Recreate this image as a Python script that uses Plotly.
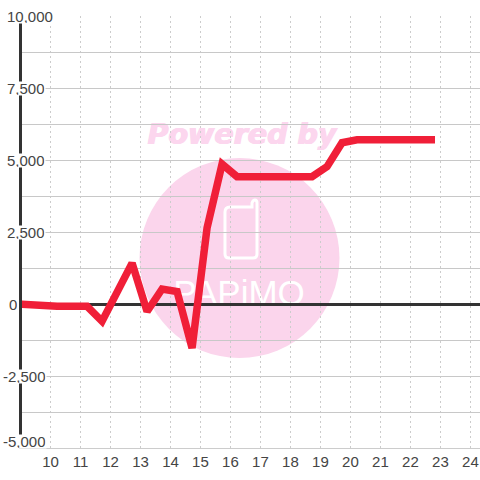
import plotly.graph_objects as go

hours = [8.9, 9.72, 10.22, 10.72, 11.22, 11.72, 12.22, 12.72, 13.22, 13.72, 14.22, 14.72,
         15.22, 15.72, 16.22, 16.72, 17.22, 17.72, 18.22, 18.72, 19.22, 19.72, 20.22,
         20.72, 21.22, 21.72, 22.22, 22.82]
values = [0, -80, -80, -80, -80, -600, 420, 1420, -260, 520, 430, -1530,
          2640, 4860, 4420, 4420, 4420, 4420, 4420, 4420, 4770, 5600, 5700,
          5700, 5700, 5700, 5700, 5700]
x_ticks = list(range(10, 25))
y_ticks = [10000, 7500, 5000, 2500, 0, -2500, -5000]
y_labels = ["10,000", "7,500", "5,000", "2,500", "0", "-2,500", "-5,000"]
watermark_top = "Powered by"
watermark_logo = "PAPiMO"

W, H = 480, 480
L, R, T, B = 22, 0, 16, 32
FONT = "Liberation Sans, Arial, sans-serif"
PINK = "#fbd5ec"


def fx(p):
    return (p - L) / (W - L - R)


def fy(p):
    return (H - B - p) / (H - T - B)


def pt(a, b):
    return f"{fx(a):.4f},{fy(b):.4f}"


phone_path = ("M" + pt(230, 207) + " L" + pt(252, 207) + " L" + pt(252, 203)
              + " Q" + pt(253, 200) + " " + pt(255, 200)
              + " Q" + pt(257, 200) + " " + pt(257, 203)
              + " L" + pt(257, 254) + " Q" + pt(257, 258) + " " + pt(253, 258)
              + " L" + pt(229, 258) + " Q" + pt(225, 258) + " " + pt(225, 254)
              + " L" + pt(225, 212) + " Q" + pt(225, 207) + " " + pt(230, 207) + " Z")

shapes = [
    dict(type="circle", xref="paper", yref="paper", layer="below",
         x0=fx(139.5), x1=fx(339.5), y0=fy(358), y1=fy(158),
         fillcolor=PINK, line_width=0),
    dict(type="rect", xref="paper", yref="paper", layer="below",
         x0=fx(140), x1=fx(344), y0=fy(148), y1=fy(116),
         fillcolor="rgba(0,0,0,0)", line_width=0,
         label=dict(text=watermark_top, textposition="middle center",
                    font=dict(family="DejaVu Sans", size=28.5, color="#fcd6ee",
                              weight=800, style="italic",
                              shadow="0.7px 0 0 #fcd6ee, -0.7px 0 0 #fcd6ee"))),
    dict(type="path", xref="paper", yref="paper", layer="below",
         path=phone_path, line=dict(color="white", width=3), fillcolor="rgba(0,0,0,0)"),
    dict(type="rect", xref="paper", yref="paper", layer="below",
         x0=fx(160), x1=fx(318), y0=fy(312), y1=fy(266),
         fillcolor="rgba(0,0,0,0)", line_width=0,
         label=dict(text=watermark_logo, textposition="middle center",
                    font=dict(family="Liberation Sans", size=35, color="white"))),
]

shifts = {10000: -0.5, -5000: 6.5}
annotations = [
    dict(xref="paper", yref="y", x=0, y=v, text=t, showarrow=False, xanchor="left",
         yanchor="middle", xshift=(-16 if v >= 1000 else (-14 if v == 0 else -20)),
         yshift=shifts.get(v, -0.5), height=13, borderpad=0, bgcolor="white",
         font=dict(family=FONT, size=15, color="#444444"))
    for v, t in zip(y_ticks, y_labels)
]

fig = go.Figure(go.Scatter(x=hours, y=values, mode="lines", cliponaxis=False,
                           line=dict(color="#f01f38", width=7.5), hoverinfo="skip"))
fig.update_layout(
    width=W, height=H, margin=dict(l=L, r=R, t=T, b=B, pad=0), autosize=False,
    paper_bgcolor="white", plot_bgcolor="rgba(0,0,0,0)", showlegend=False,
    shapes=shapes, annotations=annotations,
    font=dict(family=FONT, size=15, color="#444444"),
    xaxis=dict(range=[9.05, 24.32], tickmode="array", tickvals=x_ticks, ticks="",
               showgrid=True, gridcolor="#cccccc", gridwidth=1, griddash="2px,3px",
               zeroline=False, showline=True, linecolor="#cccccc", linewidth=1,
               tickfont=dict(family=FONT, size=15, color="#444444")),
    yaxis=dict(range=[-5000, 10000], dtick=1250, tick0=0, showticklabels=False, ticks="",
               showgrid=True, gridcolor="#c8c8c8", gridwidth=1,
               zeroline=True, zerolinecolor="#333333", zerolinewidth=3,
               showline=True, linecolor="#333333", linewidth=3),
)
fig.write_html("out.html", config=dict(displayModeBar=False),
               post_script="document.body.style.margin='0';")
